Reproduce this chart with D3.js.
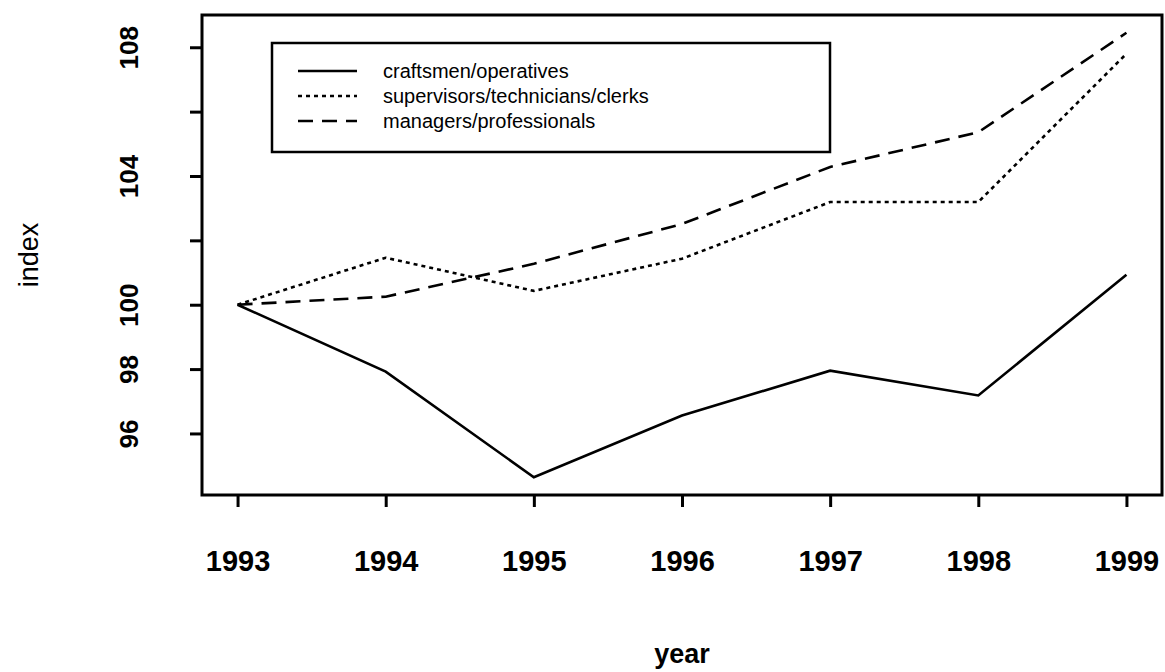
<!DOCTYPE html>
<html>
<head>
<meta charset="utf-8">
<script src="https://cdn.jsdelivr.net/npm/d3@7"></script>
<style>
  html, body { margin: 0; padding: 0; background: #fff; }
  svg { display: block; font-family: "Liberation Sans", Arial, sans-serif; }
</style>
</head>
<body>
<svg id="chart" width="1165" height="672"></svg>
<script>
const years = [1993, 1994, 1995, 1996, 1997, 1998, 1999];
const craftsmen = [100, 97.92, 94.64, 96.56, 97.95, 97.18, 100.93];
const supervisors = [100, 101.46, 100.43, 101.43, 103.19, 103.19, 107.8];
const managers = [100, 100.25, 101.27, 102.51, 104.28, 105.36, 108.45];
const seriesNames = ["craftsmen/operatives", "supervisors/technicians/clerks", "managers/professionals"];
const yTicks = [96, 98, 100, 102, 104, 106, 108];
const yTickLabels = ["96", "98", "100", "", "104", "", "108"];

const series = [
  { name: seriesNames[0], values: craftsmen, dash: null },
  { name: seriesNames[1], values: supervisors, dash: "4,4" },
  { name: seriesNames[2], values: managers, dash: "15,9" }
];

const svg = d3.select("#chart");
const pLeft = 202, pRight = 1162, pTop = 15, pBottom = 495;

const xPad = (d3.max(years) - d3.min(years)) * 0.04;
const x = d3.scaleLinear()
  .domain([d3.min(years) - xPad, d3.max(years) + xPad])
  .range([pLeft, pRight]);

const allVals = craftsmen.concat(supervisors, managers);
const yMin = d3.min(allVals), yMax = d3.max(allVals);
const yPad = (yMax - yMin) * 0.04;
const y = d3.scaleLinear()
  .domain([yMin - yPad, yMax + yPad])
  .range([pBottom, pTop]);

// lines
const line = d3.line().x((d, i) => x(years[i])).y(d => y(d));
series.forEach(s => {
  svg.append("path")
    .attr("d", line(s.values))
    .attr("fill", "none")
    .attr("stroke", "#000")
    .attr("stroke-width", 2.6)
    .attr("stroke-dasharray", s.dash);
});

// box
svg.append("rect")
  .attr("x", pLeft).attr("y", pTop)
  .attr("width", pRight - pLeft).attr("height", pBottom - pTop)
  .attr("fill", "none").attr("stroke", "#000").attr("stroke-width", 3);

// x axis
const xAxis = d3.axisBottom(x).tickValues(years).tickFormat(d3.format("d")).tickSize(12).tickPadding(0);
const gx = svg.append("g").attr("transform", `translate(0,${pBottom})`).call(xAxis);
gx.select(".domain").remove();
gx.selectAll(".tick line").attr("stroke", "#000").attr("stroke-width", 3);
gx.selectAll(".tick text")
  .attr("y", 0).attr("dy", null)
  .attr("transform", "translate(0,76)")
  .attr("fill", "#000")
  .style("font-size", "29px").style("font-weight", "bold");

// y axis
const yAxis = d3.axisLeft(y).tickValues(yTicks).tickFormat((d, i) => yTickLabels[i]).tickSize(12).tickPadding(0);
const gy = svg.append("g").attr("transform", `translate(${pLeft},0)`).call(yAxis);
gy.select(".domain").remove();
gy.selectAll(".tick line").attr("stroke", "#000").attr("stroke-width", 3);
gy.selectAll(".tick text")
  .attr("x", 0).attr("dy", null)
  .attr("text-anchor", "middle")
  .attr("transform", "translate(-64,0) rotate(-90)")
  .attr("fill", "#000")
  .style("font-size", "26px").style("font-weight", "bold");

// axis titles
svg.append("text")
  .attr("x", (pLeft + pRight) / 2).attr("y", 663)
  .attr("text-anchor", "middle")
  .style("font-size", "27px").style("font-weight", "bold")
  .text("year");
svg.append("text")
  .attr("transform", `translate(38,${(pTop + pBottom) / 2}) rotate(-90)`)
  .attr("text-anchor", "middle")
  .style("font-size", "27px")
  .text("index");

// legend
const lg = svg.append("g");
lg.append("rect")
  .attr("x", 272).attr("y", 43).attr("width", 558).attr("height", 109)
  .attr("fill", "#fff").attr("stroke", "#000").attr("stroke-width", 2.5);
series.forEach((s, i) => {
  const cy = 71 + i * 25;
  lg.append("line")
    .attr("x1", 298).attr("x2", 357).attr("y1", cy).attr("y2", cy)
    .attr("stroke", "#000").attr("stroke-width", 2.6)
    .attr("stroke-dasharray", s.dash);
  lg.append("text")
    .attr("x", 383).attr("y", cy + 7)
    .style("font-size", "20px")
    .text(s.name);
});
</script>
</body>
</html>
